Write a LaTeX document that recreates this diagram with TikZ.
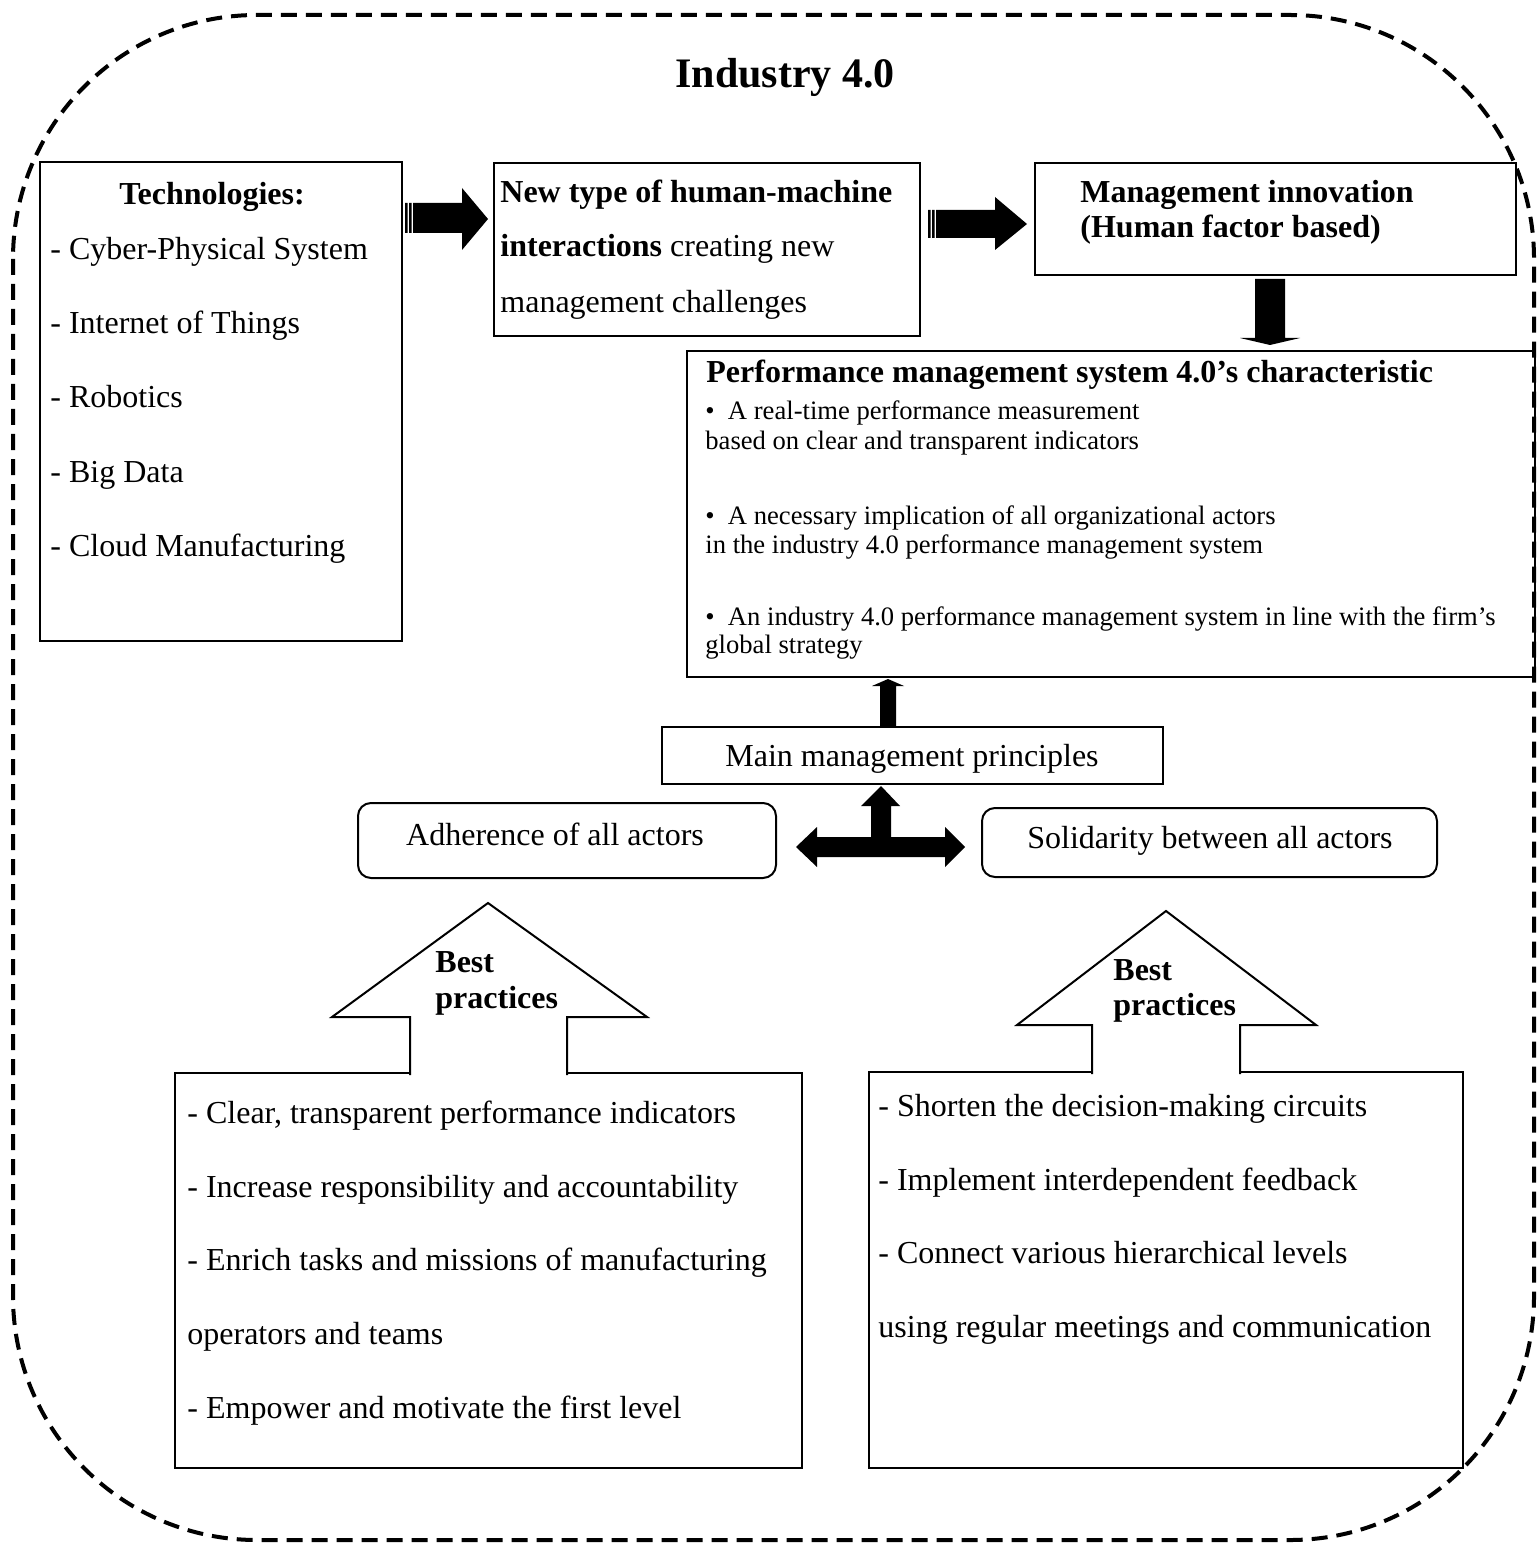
\documentclass[tikz,border=0pt]{standalone}
\usepackage{fontspec}
\setmainfont{Liberation Serif}
\tikzset{
  box/.style 2 args={draw, line width=1pt, anchor=north west, inner sep=0pt, outer sep=0pt,
    minimum width=#1*0.5pt, minimum height=#2*0.5pt},
  rbox/.style 2 args={box={#1}{#2}, rounded corners=6.5pt},
  txt/.style={inner sep=0pt, anchor=base west, font=\fontsize{16}{19}\selectfont},
  btxt/.style={txt, font=\fontsize{16}{19}\selectfont\bfseries},
  stxt/.style={txt, font=\fontsize{13.3}{16}\selectfont},
  blockarrow/.style={fill=black},
  hollowarrow/.style={draw, fill=white, line width=1pt, line join=miter},
  outerframe/.style={draw, line width=2pt, dash pattern=on 8pt off 4.5pt, rounded corners=122pt}
}
\begin{document}
\begin{tikzpicture}[x=0.5pt,y=-0.5pt]
\useasboundingbox (0,0) rectangle (1537,1545);
\draw[outerframe] (13,15) rectangle (1534,1540);
\node[btxt, anchor=base, font=\fontsize{21}{25}\selectfont\bfseries] (title) at (785,88) {Industry 4.0};
% boxes
\node[box={362}{479}] (tech) at (40,162) {};
\node[box={426}{173}] (hmi) at (494,163) {};
\node[box={481}{112}] (innov) at (1035,163) {};
\node[box={848}{326}] (perf) at (687,351) {};
\node[box={501}{57}] (princ) at (662,727) {};
\node[rbox={418}{75}] (adh) at (358,803) {};
\node[rbox={455}{69}] (sol) at (982,808) {};
\node[box={627}{395}] (bpl) at (175,1073) {};
\node[box={594}{396}] (bpr) at (869,1072) {};
% technologies
\node[btxt, anchor=base] (techhead) at (212,205) {Technologies:};
\foreach \y/\t [count=\i] in {260/Cyber-Physical System, 334/Internet of Things,
  408/Robotics, 482/Big Data, 556/Cloud Manufacturing}
  \node[txt] (tech\i) at (50,\y) {- \t};
% interactions
\node[btxt] (hmi1) at (500,203) {New type of human-machine};
\node[txt] (hmi2) at (500,257) {\textbf{interactions} creating new};
\node[txt] (hmi3) at (500,313) {management challenges};
% innovation
\node[btxt] (innov1) at (1080,203) {Management innovation};
\node[btxt] (innov2) at (1080,238) {(Human factor based)};
% characteristics
\node[btxt] (perfhead) at (706,383) {Performance management system 4.0’s characteristic};
\foreach \y/\t [count=\i] in {
  420/{\textbullet\ \ A real-time performance measurement},
  450/{based on clear and transparent indicators},
  524/{\textbullet\ \ A necessary implication of all organizational actors},
  553/{in the industry 4.0 performance management system},
  625/{\textbullet\ \ An industry 4.0 performance management system in line with the firm’s},
  653/{global strategy}}
  \node[stxt] (perf\i) at (705,\y) {\t};
% principles
\node[txt, anchor=base] (princtxt) at (912,766) {Main management principles};
\node[txt, anchor=base] (adhtxt) at (555,845) {Adherence of all actors};
\node[txt, anchor=base] (soltxt) at (1210,848) {Solidarity between all actors};
% best practices
\foreach \y/\t [count=\i] in {1123/{- Clear, transparent performance indicators},
  1197/{- Increase responsibility and accountability},
  1270/{- Enrich tasks and missions of manufacturing},
  1344/{operators and teams},
  1418/{- Empower and motivate the first level}}
  \node[txt] (bpl\i) at (187,\y) {\t};
\foreach \y/\t [count=\i] in {1116/{- Shorten the decision-making circuits},
  1190/{- Implement interdependent feedback},
  1263/{- Connect various hierarchical levels},
  1337/{using regular meetings and communication}}
  \node[txt] (bpr\i) at (878,\y) {\t};
% striped arrows
\fill[blockarrow] (405,203) rectangle (407.5,233) (409,203) rectangle (411.5,233);
\fill[blockarrow] (413,203) -- (462,203) -- (462,188) -- (488,219) -- (462,250) -- (462,233) -- (413,233) -- cycle;
\fill[blockarrow] (928,210) rectangle (930.5,238) (932,210) rectangle (934.5,238);
\fill[blockarrow] (936,210) -- (995,210) -- (995,197) -- (1027,224) -- (995,250) -- (995,238) -- (936,238) -- cycle;
% down and up arrows
\fill[blockarrow] (1255,279) -- (1285,279) -- (1285,338) -- (1300,338) -- (1270,345) -- (1240,338) -- (1255,338) -- cycle;
\fill[blockarrow] (880,727) -- (880,686) -- (872,686) -- (888,679) -- (904,686) -- (896,686) -- (896,727) -- cycle;
% cross arrow
\fill[blockarrow] (881,786) -- (900,806) -- (891,806) -- (891,837) -- (945,837) -- (945,827) -- (965,847)
  -- (945,867) -- (945,857) -- (817,857) -- (817,867) -- (796,847) -- (817,827) -- (817,837)
  -- (871,837) -- (871,806) -- (861,806) -- cycle;
% best practices arrows
\path[hollowarrow] (410,1075) -- (410,1017) -- (332,1017) -- (488,903) -- (647,1017) -- (567,1017) -- (567,1075);
\node[btxt] (best1) at (435,972) {Best};
\node[btxt] (prac1) at (435,1008) {practices};
\path[hollowarrow] (1092,1074) -- (1092,1025) -- (1017,1025) -- (1166,911) -- (1316,1025) -- (1240,1025) -- (1240,1074);
\node[btxt] (best2) at (1113,980) {Best};
\node[btxt] (prac2) at (1113,1015) {practices};
\end{tikzpicture}
\end{document}
